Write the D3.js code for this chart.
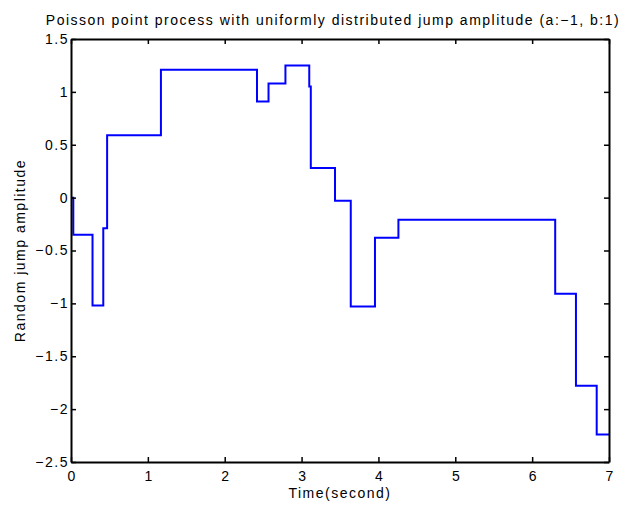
<!DOCTYPE html>
<html>
<head>
<meta charset="utf-8">
<script src="https://cdn.jsdelivr.net/npm/d3@7"></script>
<style>
  body { margin: 0; background: #fff; }
  svg { font-family: "Liberation Sans", Arial, sans-serif; }
  .axis text { font-size: 14px; fill: #000; letter-spacing: 1.5px; }
  .axis path, .axis line { stroke: #000; }
  .lbl { font-size: 14px; letter-spacing: 1.5px; }
</style>
</head>
<body>
<div id="chart"></div>
<script>
// jump times (s) and the amplitude held after each jump
const jumpTimes = [0, 0.03, 0.28, 0.42, 0.47, 1.17, 2.42, 2.57, 2.79, 3.10, 3.12, 3.435, 3.64, 3.955, 4.26, 6.30, 6.57, 6.84];
const amplitudes = [0, -0.35, -1.02, -0.29, 0.59, 1.21, 0.91, 1.08, 1.25, 1.05, 0.28, -0.03, -1.03, -0.38, -0.21, -0.91, -1.78, -2.24];
const endTime = 7;

const xTicks = [0, 1, 2, 3, 4, 5, 6, 7];
const yTicks = [-2.5, -2, -1.5, -1, -0.5, 0, 0.5, 1, 1.5];

const titleText = "Poisson point process with uniformly distributed jump amplitude (a:\u22121, b:1)";
const xLabel = "Time(second)";
const yLabel = "Random jump amplitude";

const width = 638, height = 505;
const margin = {top: 39, right: 29, bottom: 43, left: 71};

const x = d3.scaleLinear().domain([0, 7]).range([margin.left, width - margin.right]);
const y = d3.scaleLinear().domain([-2.5, 1.5]).range([height - margin.bottom, margin.top]);

const fmt = (d) => String(d).replace("-", "\u2212");

const svg = d3.select("#chart").append("svg")
    .attr("width", width)
    .attr("height", height);

// step line
const points = jumpTimes.map((t, i) => [t, amplitudes[i]]);
points.push([endTime, amplitudes[amplitudes.length - 1]]);

svg.append("path")
    .datum(points)
    .attr("fill", "none")
    .attr("stroke", "#0000ff")
    .attr("stroke-width", 2)
    .attr("d", d3.line()
      .x((d) => x(d[0]))
      .y((d) => y(d[1]))
      .curve(d3.curveStepAfter));

// axes, ticks pointing inward on all four sides
const tick = 5;
svg.append("g")
    .attr("class", "axis")
    .attr("transform", "translate(0," + y(-2.5) + ")")
    .call(d3.axisBottom(x).tickValues(xTicks).tickFormat(fmt).tickSizeInner(-tick).tickSizeOuter(0).tickPadding(9));
svg.append("g")
    .attr("class", "axis")
    .attr("transform", "translate(0," + y(1.5) + ")")
    .call(d3.axisTop(x).tickValues(xTicks).tickFormat("").tickSizeInner(-tick).tickSizeOuter(0));
svg.append("g")
    .attr("class", "axis")
    .attr("transform", "translate(" + x(0) + ",0)")
    .call(d3.axisLeft(y).tickValues(yTicks).tickFormat(fmt).tickSizeInner(-tick).tickSizeOuter(0).tickPadding(2));
svg.append("g")
    .attr("class", "axis")
    .attr("transform", "translate(" + x(7) + ",0)")
    .call(d3.axisRight(y).tickValues(yTicks).tickFormat("").tickSizeInner(-tick).tickSizeOuter(0));

svg.selectAll(".axis path").attr("stroke-width", 2);
svg.selectAll(".axis line").attr("stroke-width", 1.5);
// centre x tick labels despite trailing letter spacing
svg.selectAll(".axis text").filter(function() { return this.getAttribute("dy") === "0.71em"; })
    .attr("dx", "0.75px");

svg.append("text")
    .attr("class", "lbl")
    .attr("x", 333)
    .attr("y", 25)
    .attr("text-anchor", "middle")
    .text(titleText);

svg.append("text")
    .attr("class", "lbl")
    .attr("x", (x(0) + x(7)) / 2)
    .attr("y", 498)
    .attr("text-anchor", "middle")
    .text(xLabel);

svg.append("text")
    .attr("class", "lbl")
    .attr("transform", "translate(25," + (y(-0.5)) + ") rotate(-90)")
    .attr("text-anchor", "middle")
    .text(yLabel);
</script>
</body>
</html>
